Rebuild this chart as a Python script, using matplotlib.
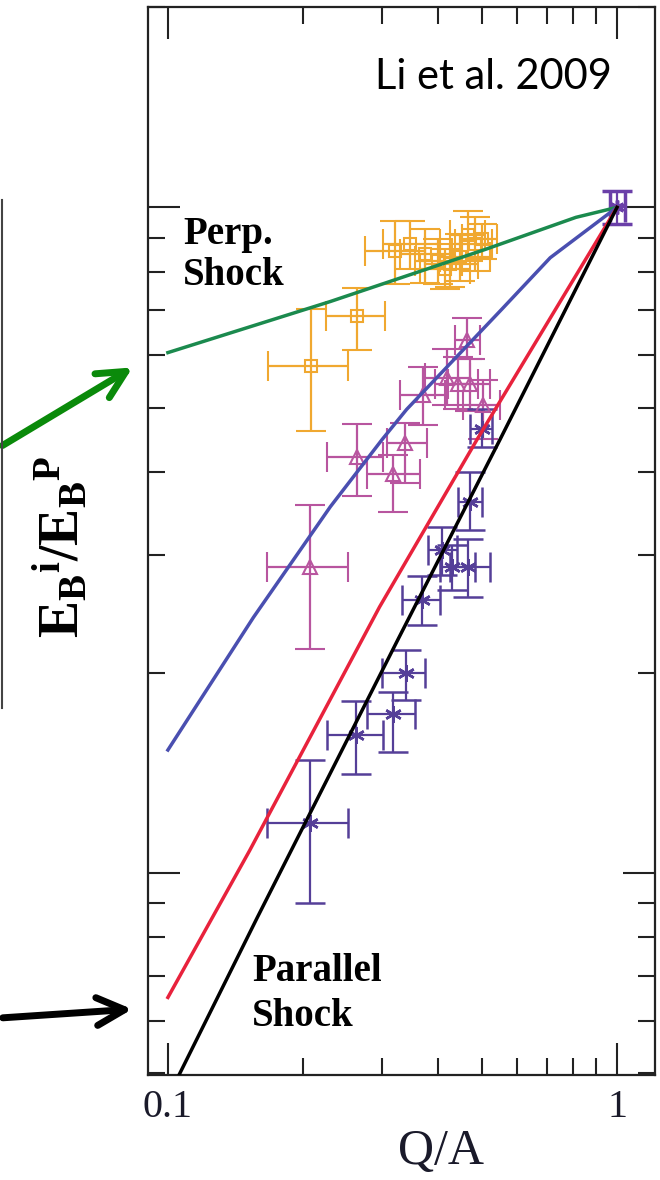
import numpy as np
import matplotlib.pyplot as plt
from matplotlib.ticker import NullFormatter

plt.rcParams['mathtext.fontset'] = 'custom'
plt.rcParams['mathtext.rm'] = 'Liberation Serif'
plt.rcParams['mathtext.bf'] = 'Liberation Serif:bold'
plt.rcParams['mathtext.it'] = 'Liberation Serif:italic'

# model curves
qa_green = [0.1, 0.23, 0.51, 0.81, 1.0]
eb_green = [0.605, 0.722, 0.865, 0.966, 1.0]

qa_blue = [0.1, 0.155, 0.23, 0.30, 0.34, 0.554, 0.71, 1.0]
eb_blue = [0.153, 0.242, 0.355, 0.448, 0.497, 0.703, 0.84, 1.0]

qa_red = [0.1, 0.152, 0.296, 0.488, 1.0]
eb_red = [0.065, 0.108, 0.251, 0.448, 1.0]

qa_black = [0.1, 0.158, 0.325, 0.549, 1.0]
eb_black = [0.046, 0.0856, 0.224, 0.448, 1.0]

# perpendicular-like points (orange squares)
sq_x = [0.208, 0.264, 0.320, 0.346, 0.374, 0.399, 0.425, 0.447, 0.466, 0.483, 0.500, 0.414]
sq_xlo = [0.167, 0.225, 0.275, 0.301, 0.329, 0.355, 0.374, 0.404, 0.425, 0.436, 0.452, 0.364]
sq_xhi = [0.252, 0.304, 0.374, 0.404, 0.429, 0.452, 0.490, 0.521, 0.508, 0.527, 0.540, 0.471]
sq_y = [0.578, 0.686, 0.859, 0.880, 0.850, 0.830, 0.821, 0.841, 0.908, 0.880, 0.895, 0.807]
sq_ylo = [0.461, 0.610, 0.766, 0.807, 0.771, 0.766, 0.758, 0.774, 0.830, 0.801, 0.835, 0.753]
sq_yhi = [0.703, 0.756, 0.953, 0.953, 0.927, 0.895, 0.880, 0.911, 0.986, 0.966, 0.943, 0.865]

# triangles (magenta)
tr_x = [0.207, 0.263, 0.317, 0.337, 0.463, 0.370, 0.418, 0.442, 0.470, 0.503]
tr_xlo = [0.166, 0.226, 0.277, 0.307, 0.436, 0.329, 0.374, 0.393, 0.420, 0.454]
tr_xhi = [0.252, 0.301, 0.364, 0.377, 0.495, 0.414, 0.471, 0.490, 0.521, 0.549]
tr_y = [0.288, 0.421, 0.397, 0.443, 0.633, 0.523, 0.555, 0.542, 0.542, 0.505]
tr_ylo = [0.217, 0.368, 0.349, 0.386, 0.591, 0.471, 0.505, 0.497, 0.494, 0.448]
tr_yhi = [0.357, 0.473, 0.425, 0.475, 0.683, 0.575, 0.612, 0.595, 0.591, 0.551]

# asterisks (purple)
as_x = [0.207, 0.262, 0.317, 0.339, 0.368, 0.408, 0.429, 0.466, 0.471, 0.500]
as_xlo = [0.166, 0.226, 0.277, 0.300, 0.332, 0.379, 0.404, 0.425, 0.442, 0.471]
as_xhi = [0.252, 0.301, 0.355, 0.373, 0.404, 0.440, 0.483, 0.521, 0.500, 0.527]
as_y = [0.119, 0.161, 0.173, 0.200, 0.257, 0.306, 0.288, 0.288, 0.361, 0.464]
as_ylo = [0.090, 0.141, 0.152, 0.182, 0.236, 0.280, 0.266, 0.260, 0.328, 0.437]
as_yhi = [0.148, 0.181, 0.187, 0.216, 0.279, 0.331, 0.311, 0.317, 0.400, 0.497]

# reference point at Q/A = 1
ref_x = [1.0]
ref_xlo = [0.965]
ref_xhi = [1.04]
ref_y = [1.0]
ref_ylo = [0.943]
ref_yhi = [1.057]

W, H = 660, 1180
def fx(px):
    return px / W
def fy(py):
    return 1 - py / H

fig = plt.figure(figsize=(6.6, 11.8), dpi=100)
ax = fig.add_axes([fx(148), fy(1075), (655 - 148) / W, (1075 - 7) / H])

def errs(v, lo, hi):
    v = np.array(v); lo = np.array(lo); hi = np.array(hi)
    return [v - lo, hi - v]

ax.plot(qa_green, eb_green, color='#1b8a4e', lw=2.5, zorder=3)
ax.plot(qa_blue, eb_blue, color='#4a4fb0', lw=2.5, zorder=3)
ax.plot(qa_red, eb_red, color='#e8223c', lw=2.5, zorder=3)
ax.plot(qa_black, eb_black, color='black', lw=2.5, zorder=3)

ekw = dict(linestyle='none', capsize=11, elinewidth=1.6, capthick=1.6, zorder=2)
ax.errorbar(sq_x, sq_y, xerr=errs(sq_x, sq_xlo, sq_xhi), yerr=errs(sq_y, sq_ylo, sq_yhi),
            marker='s', ms=8, mfc='none', mew=1.5, color='#f0a830', **ekw)
ax.errorbar(tr_x, tr_y, xerr=errs(tr_x, tr_xlo, tr_xhi), yerr=errs(tr_y, tr_ylo, tr_yhi),
            marker='^', ms=10, mfc='none', mew=1.5, color='#b8559f', **ekw)
ax.errorbar(as_x, as_y, xerr=errs(as_x, as_xlo, as_xhi), yerr=errs(as_y, as_ylo, as_yhi),
            marker=(6, 2, 0), ms=12, mew=1.8, color='#553f98', **ekw)
ax.errorbar(ref_x, ref_y, xerr=errs(ref_x, ref_xlo, ref_xhi), yerr=errs(ref_y, ref_ylo, ref_yhi),
            marker=(6, 2, 0), ms=10, mew=2.5, color='#6a3fa8', **ekw)

ax.set_xscale('log')
ax.set_yscale('log')
ax.set_xlim(0.0903, 1.215)
ax.set_ylim(0.0497, 2.0)
ax.set_xticks([0.1, 1])
ax.set_xticklabels(['0.1', '1'])
ax.xaxis.set_minor_formatter(NullFormatter())
ax.set_yticks([0.1, 1])
ax.yaxis.set_major_formatter(NullFormatter())
ax.yaxis.set_minor_formatter(NullFormatter())
ax.tick_params(which='both', direction='in', top=True, right=True, width=1.5, color='#222222')
ax.tick_params(which='major', length=23, pad=10, labelsize=29, labelcolor='#1a1a2a')
ax.tick_params(which='minor', length=12)
for lab in ax.get_xticklabels():
    lab.set_family('Liberation Serif')
for s in ax.spines.values():
    s.set_linewidth(1.6)
    s.set_color('#222222')

fig.text(fx(183), fy(216), 'Perp.\nShock', family='Liberation Serif', weight='bold',
         fontsize=28, va='top', ha='left', linespacing=1.15)
fig.text(fx(252), fy(953), 'Parallel\nShock', family='Liberation Serif', weight='bold',
         fontsize=28, va='top', ha='left', linespacing=1.3)
fig.text(fx(493), fy(89), 'Li et al. 2009', family='Lato', fontsize=30, ha='center', va='baseline')
fig.text(fx(441), fy(1152), 'Q/A', family='Liberation Serif', fontsize=36, ha='center', va='center',
         color='#1a1a2a')
fig.text(fx(61), fy(547), r'$\mathbf{E_B{}^i/E_B{}^P}$', fontsize=40, rotation=90,
         ha='center', va='center')

# slide decorations outside the plot
fig.add_artist(plt.Line2D([fx(1.5), fx(1.5)], [fy(200), fy(708)], color='#444444', lw=1.5))
ax.annotate('', xy=(135, H - 366), xytext=(0, H - 447), xycoords='figure pixels',
            textcoords='figure pixels', annotation_clip=False,
            arrowprops=dict(arrowstyle='->', color='#0a8a0a', lw=5, mutation_scale=50))
ax.annotate('', xy=(135, H - 1009), xytext=(0, H - 1018), xycoords='figure pixels',
            textcoords='figure pixels', annotation_clip=False,
            arrowprops=dict(arrowstyle='->', color='black', lw=5, mutation_scale=50))

fig.savefig('out.png', dpi=100)
